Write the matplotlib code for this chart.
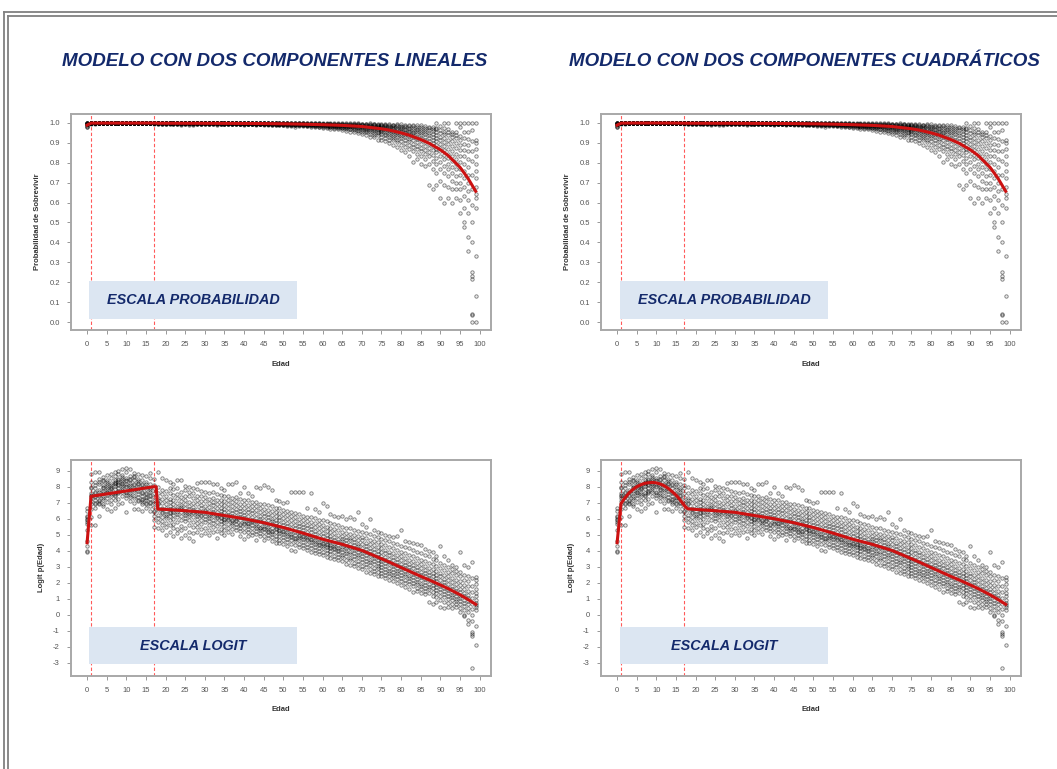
import numpy as np
import matplotlib.pyplot as plt
from matplotlib.patches import Rectangle

plt.rcParams['font.family'] = ['Liberation Sans', 'DejaVu Sans']
plt.rcParams['axes.unicode_minus'] = False

# observaciones en escala logit, una fila por edad (0..99)
logit_obs = [
    [3.9, 4.0, 4.3, 4.6, 5.3, 5.7, 5.8, 5.9, 6.0, 6.1, 6.2, 6.5, 6.7],
    [5.6, 6.1, 6.6, 6.9, 7.1, 7.3, 7.4, 7.6, 7.9, 8.0, 8.3, 8.8, 7.5],
    [5.6, 6.7, 7.0, 7.2, 7.35, 7.4, 7.6, 7.9, 8.1, 8.3, 8.9, 7.7, 6.9],
    [6.2, 6.9, 7.1, 7.2, 7.5, 7.7, 7.8, 8.2, 8.3, 8.5, 8.9, 7.4, 7.0],
    [6.8, 6.9, 7.3, 7.45, 7.6, 7.9, 8.0, 8.1, 8.35, 8.6, 7.2, 7.75, 8.4],
    [6.6, 7.05, 7.3, 7.5, 7.7, 7.8, 8.05, 8.2, 8.3, 8.75, 7.6, 7.95, 8.45],
    [6.5, 6.95, 7.2, 7.55, 7.7, 7.9, 8.1, 8.25, 8.55, 8.8, 7.4, 8.0, 7.85],
    [6.7, 7.15, 7.4, 7.6, 7.85, 8.15, 8.3, 8.45, 8.7, 8.95, 7.5, 8.05, 8.25],
    [6.9, 7.25, 7.6, 7.75, 7.95, 8.2, 8.4, 8.5, 8.8, 9.0, 7.7, 8.1, 8.3],
    [7.0, 7.45, 7.65, 7.9, 8.15, 8.35, 8.6, 8.75, 9.1, 7.8, 8.05, 8.5, 8.25],
    [6.4, 7.3, 7.5, 7.7, 8.05, 8.2, 8.45, 8.55, 8.9, 9.2, 7.6, 8.0, 8.35],
    [7.1, 7.35, 7.6, 7.8, 8.0, 8.25, 8.4, 8.65, 9.1, 7.85, 8.1, 8.5, 7.5],
    [6.6, 7.0, 7.3, 7.65, 7.9, 8.1, 8.4, 8.6, 8.85, 7.45, 7.8, 8.2, 8.7],
    [6.6, 7.1, 7.35, 7.55, 7.75, 8.0, 8.25, 8.5, 8.8, 7.2, 7.85, 8.15, 8.35],
    [6.5, 6.95, 7.15, 7.4, 7.7, 7.95, 8.1, 8.4, 8.75, 7.05, 7.6, 8.2, 7.25],
    [6.7, 6.95, 7.2, 7.3, 7.55, 7.85, 8.15, 8.3, 8.65, 7.0, 7.6, 8.0, 7.35],
    [6.5, 6.8, 7.0, 7.25, 7.5, 7.7, 7.9, 8.2, 8.55, 7.05, 7.4, 7.8, 8.85],
    [5.5, 5.95, 6.2, 6.5, 6.75, 7.1, 7.35, 7.6, 7.9, 8.1, 8.5, 6.4, 7.0],
    [5.4, 5.8, 6.05, 6.25, 6.55, 6.9, 7.15, 7.3, 7.6, 8.0, 8.9, 6.7, 7.0],
    [5.3, 5.6, 5.85, 6.1, 6.45, 6.7, 7.0, 7.25, 7.55, 7.8, 8.55, 6.6, 6.35],
    [5.0, 5.5, 5.75, 6.05, 6.3, 6.5, 6.65, 6.9, 7.15, 7.4, 7.75, 8.45, 6.2],
    [5.2, 5.6, 5.95, 6.15, 6.35, 6.6, 6.8, 7.05, 7.25, 7.6, 7.95, 8.3, 6.45],
    [4.9, 5.45, 5.7, 6.0, 6.25, 6.55, 6.7, 6.95, 7.2, 7.5, 7.85, 8.2, 6.4],
    [5.1, 5.35, 5.8, 6.1, 6.3, 6.45, 6.75, 7.0, 7.3, 7.55, 7.9, 8.4, 6.6],
    [4.8, 5.3, 5.55, 5.9, 6.2, 6.4, 6.6, 6.85, 7.1, 7.35, 7.7, 8.4, 6.75],
    [5.0, 5.4, 5.85, 6.05, 6.25, 6.5, 6.7, 6.9, 7.2, 7.45, 7.8, 8.05, 6.35],
    [4.8, 5.15, 5.6, 5.95, 6.15, 6.45, 6.6, 6.8, 7.05, 7.4, 7.65, 8.0, 6.3],
    [4.6, 5.1, 5.5, 5.8, 6.1, 6.35, 6.55, 6.75, 7.0, 7.3, 7.6, 7.95, 6.4],
    [5.2, 5.5, 5.75, 6.0, 6.2, 6.4, 6.6, 6.95, 7.15, 7.45, 7.85, 8.25, 6.3],
    [5.0, 5.35, 5.65, 5.9, 6.15, 6.45, 6.65, 6.85, 7.1, 7.4, 7.75, 8.3, 6.25],
    [5.1, 5.45, 5.8, 6.0, 6.2, 6.35, 6.55, 6.8, 7.1, 7.35, 7.7, 8.3, 6.5],
    [5.0, 5.3, 5.6, 5.85, 6.05, 6.3, 6.5, 6.75, 7.0, 7.25, 7.6, 8.3, 6.15],
    [5.2, 5.5, 5.75, 5.95, 6.2, 6.4, 6.6, 6.85, 7.05, 7.3, 7.7, 8.2, 6.3],
    [4.8, 5.25, 5.55, 5.8, 6.05, 6.25, 6.45, 6.7, 6.95, 7.2, 7.55, 8.15, 6.1],
    [5.1, 5.35, 5.65, 5.85, 6.1, 6.3, 6.5, 6.7, 6.9, 7.2, 7.5, 7.9, 6.05],
    [5.0, 5.3, 5.55, 5.8, 6.0, 6.2, 6.4, 6.6, 6.85, 7.1, 7.4, 7.8, 5.9],
    [5.2, 5.45, 5.7, 5.9, 6.1, 6.25, 6.45, 6.65, 6.9, 7.15, 7.45, 8.15, 6.0],
    [5.05, 5.35, 5.6, 5.75, 5.95, 6.15, 6.35, 6.55, 6.8, 7.05, 7.3, 8.2, 5.85],
    [5.3, 5.5, 5.65, 5.85, 6.05, 6.2, 6.4, 6.6, 6.85, 7.1, 7.35, 8.3, 5.95],
    [4.9, 5.25, 5.45, 5.7, 5.9, 6.1, 6.3, 6.5, 6.7, 6.95, 7.25, 7.6, 5.6],
    [4.75, 5.15, 5.4, 5.65, 5.85, 6.05, 6.25, 6.45, 6.7, 6.95, 7.2, 8.0, 5.75],
    [4.9, 5.15, 5.35, 5.55, 5.75, 5.95, 6.15, 6.4, 6.6, 6.85, 7.15, 7.6, 5.65],
    [5.0, 5.2, 5.4, 5.6, 5.8, 5.95, 6.1, 6.35, 6.55, 6.8, 7.05, 7.4, 5.85],
    [4.7, 5.05, 5.25, 5.45, 5.65, 5.85, 6.05, 6.3, 6.55, 6.8, 7.05, 8.0, 5.55],
    [4.9, 5.1, 5.3, 5.45, 5.65, 5.85, 6.0, 6.2, 6.45, 6.7, 6.95, 7.9, 5.4],
    [4.7, 4.95, 5.2, 5.35, 5.55, 5.75, 5.95, 6.15, 6.35, 6.6, 6.9, 8.1, 5.45],
    [4.8, 5.0, 5.15, 5.35, 5.5, 5.7, 5.9, 6.1, 6.3, 6.55, 6.85, 8.0, 5.25],
    [4.6, 4.85, 5.05, 5.25, 5.45, 5.65, 5.85, 6.0, 6.25, 6.5, 6.8, 7.8, 5.15],
    [4.5, 4.75, 4.95, 5.15, 5.35, 5.55, 5.75, 5.95, 6.2, 6.45, 6.7, 7.2, 5.45],
    [4.5, 4.7, 4.9, 5.1, 5.3, 5.5, 5.7, 5.9, 6.1, 6.35, 6.65, 7.1, 5.25],
    [4.4, 4.65, 4.85, 5.05, 5.25, 5.45, 5.6, 5.8, 6.05, 6.3, 6.55, 7.0, 5.15],
    [4.3, 4.55, 4.75, 4.95, 5.15, 5.35, 5.55, 5.75, 6.0, 6.25, 6.5, 7.05, 5.05],
    [4.05, 4.45, 4.65, 4.85, 5.05, 5.25, 5.45, 5.65, 5.9, 6.15, 6.45, 7.7, 4.95],
    [4.0, 4.35, 4.6, 4.8, 5.0, 5.2, 5.4, 5.6, 5.85, 6.1, 6.35, 7.7, 4.75],
    [4.25, 4.45, 4.65, 4.8, 5.0, 5.15, 5.35, 5.55, 5.75, 6.0, 6.3, 7.7, 4.95],
    [4.15, 4.35, 4.55, 4.75, 4.9, 5.1, 5.3, 5.5, 5.7, 5.95, 6.2, 7.7, 4.85],
    [4.05, 4.25, 4.45, 4.65, 4.85, 5.0, 5.2, 5.4, 5.6, 5.85, 6.1, 6.7, 4.75],
    [3.95, 4.15, 4.35, 4.55, 4.75, 4.95, 5.15, 5.35, 5.55, 5.8, 6.1, 7.6, 4.65],
    [3.85, 4.05, 4.25, 4.45, 4.65, 4.85, 5.05, 5.25, 5.5, 5.75, 6.05, 6.6, 4.55],
    [3.8, 4.0, 4.2, 4.35, 4.55, 4.75, 4.95, 5.15, 5.4, 5.65, 5.95, 6.4, 4.45],
    [3.75, 3.95, 4.15, 4.3, 4.5, 4.7, 4.9, 5.1, 5.35, 5.6, 5.9, 7.0, 4.4],
    [3.6, 3.85, 4.05, 4.25, 4.45, 4.6, 4.8, 5.0, 5.25, 5.5, 5.85, 6.8, 4.35],
    [3.55, 3.8, 4.0, 4.2, 4.35, 4.55, 4.75, 4.95, 5.2, 5.45, 5.75, 6.3, 4.25],
    [3.5, 3.7, 3.9, 4.1, 4.3, 4.45, 4.65, 4.85, 5.1, 5.35, 5.65, 6.2, 4.15],
    [3.4, 3.6, 3.8, 4.0, 4.2, 4.35, 4.55, 4.75, 5.0, 5.3, 5.6, 6.1, 4.05],
    [3.35, 3.6, 3.75, 3.95, 4.1, 4.25, 4.4, 4.6, 4.75, 4.95, 5.2, 5.5, 6.2],
    [3.2, 3.45, 3.7, 3.85, 4.0, 4.2, 4.3, 4.5, 4.7, 4.85, 5.1, 5.45, 6.0],
    [3.1, 3.4, 3.55, 3.8, 3.95, 4.15, 4.25, 4.45, 4.65, 4.8, 5.05, 5.4, 6.1],
    [3.05, 3.25, 3.5, 3.65, 3.85, 4.05, 4.2, 4.35, 4.55, 4.75, 5.0, 5.3, 6.0],
    [2.9, 3.2, 3.35, 3.6, 3.75, 3.9, 4.1, 4.3, 4.45, 4.7, 4.95, 5.25, 6.4],
    [2.85, 3.05, 3.3, 3.5, 3.7, 3.85, 4.0, 4.2, 4.4, 4.65, 4.85, 5.2, 5.65],
    [2.7, 3.0, 3.2, 3.35, 3.55, 3.75, 3.9, 4.1, 4.3, 4.5, 4.8, 5.1, 5.5],
    [2.6, 2.85, 3.1, 3.3, 3.45, 3.65, 3.8, 4.0, 4.2, 4.45, 4.7, 5.05, 6.0],
    [2.55, 2.75, 2.95, 3.15, 3.35, 3.55, 3.7, 3.9, 4.1, 4.35, 4.6, 4.95, 5.3],
    [2.4, 2.7, 2.9, 3.05, 3.25, 3.45, 3.6, 3.8, 4.0, 4.25, 4.55, 4.85, 5.2],
    [2.4, 2.6, 2.8, 3.0, 3.15, 3.35, 3.5, 3.7, 3.95, 4.15, 4.45, 4.75, 5.1],
    [2.3, 2.5, 2.7, 2.85, 3.05, 3.25, 3.4, 3.6, 3.85, 4.05, 4.35, 4.7, 5.0],
    [2.2, 2.4, 2.6, 2.75, 2.95, 3.15, 3.3, 3.5, 3.75, 3.95, 4.25, 4.6, 4.95],
    [2.1, 2.35, 2.5, 2.65, 2.85, 3.05, 3.2, 3.4, 3.6, 3.85, 4.15, 4.5, 4.85],
    [2.0, 2.25, 2.4, 2.6, 2.75, 2.95, 3.1, 3.3, 3.5, 3.75, 4.05, 4.4, 4.9],
    [1.85, 2.1, 2.3, 2.5, 2.65, 2.85, 3.0, 3.2, 3.4, 3.65, 3.95, 4.3, 5.3],
    [1.75, 2.0, 2.2, 2.4, 2.55, 2.75, 2.9, 3.1, 3.3, 3.55, 3.85, 4.25, 4.6],
    [1.6, 1.9, 2.1, 2.3, 2.45, 2.65, 2.8, 3.0, 3.2, 3.45, 3.75, 4.15, 4.55],
    [1.4, 1.8, 2.0, 2.15, 2.35, 2.55, 2.7, 2.9, 3.1, 3.35, 3.65, 4.05, 4.5],
    [1.5, 1.7, 1.9, 2.05, 2.25, 2.45, 2.6, 2.8, 3.0, 3.25, 3.55, 3.95, 4.4],
    [1.35, 1.6, 1.8, 1.95, 2.15, 2.35, 2.5, 2.7, 2.9, 3.15, 3.45, 3.85, 4.35],
    [1.3, 1.5, 1.7, 1.85, 2.05, 2.25, 2.4, 2.6, 2.8, 3.05, 3.35, 3.75, 4.1],
    [0.8, 1.35, 1.6, 1.75, 1.95, 2.15, 2.3, 2.5, 2.7, 2.95, 3.25, 3.65, 4.0],
    [0.7, 1.2, 1.45, 1.65, 1.85, 2.05, 2.2, 2.4, 2.6, 2.85, 3.15, 3.5, 3.9],
    [0.8, 1.1, 1.35, 1.55, 1.75, 1.9, 2.1, 2.3, 2.5, 2.75, 3.05, 3.4, 3.7],
    [0.5, 0.9, 1.2, 1.4, 1.6, 1.8, 1.95, 2.15, 2.4, 2.6, 2.9, 3.25, 4.3],
    [0.4, 0.8, 1.1, 1.3, 1.5, 1.65, 1.85, 2.05, 2.25, 2.5, 2.8, 3.1, 3.7],
    [0.5, 0.75, 1.0, 1.2, 1.35, 1.55, 1.7, 1.9, 2.15, 2.4, 2.7, 3.0, 3.4],
    [0.4, 0.7, 0.9, 1.1, 1.25, 1.45, 1.6, 1.8, 2.05, 2.3, 2.6, 2.85, 3.1],
    [0.5, 0.7, 0.85, 1.0, 1.2, 1.35, 1.5, 1.7, 1.95, 2.2, 2.5, 2.75, 3.0],
    [0.2, 0.45, 0.7, 0.85, 1.05, 1.2, 1.4, 1.6, 1.85, 2.1, 2.4, 2.65, 3.9],
    [-0.1, 0.0, 0.3, 0.55, 0.75, 0.95, 1.15, 1.35, 1.6, 1.85, 2.15, 2.5, 3.1],
    [-0.6, -0.3, 0.2, 0.45, 0.65, 0.85, 1.05, 1.25, 1.5, 1.8, 2.1, 2.45, 3.0],
    [-3.3, -1.3, -1.2, -1.1, -0.4, 0.0, 0.35, 0.7, 1.05, 1.45, 1.8, 2.3, 3.3],
    [-1.9, -0.7, 0.3, 0.5, 0.75, 0.95, 1.15, 1.35, 1.6, 1.9, 2.2, 2.35, 0.6],
]

# puntos con probabilidad 0 o 1 (logit infinito, solo en escala probabilidad)
prob_extra_edad = [89, 91, 92, 94, 95, 96, 97, 98, 99, 98, 98, 99]
prob_extra_val = [1.0, 1.0, 1.0, 1.0, 1.0, 1.0, 1.0, 1.0, 1.0, 0.0, 0.04, 0.0]

# curvas ajustadas (escala logit)
lin_edad = [0, 1, 17, 17.6, 18, 20, 25, 30, 35, 40, 45, 50, 55, 60, 65, 70, 75, 77, 80, 82, 85, 87, 90, 92, 95, 97, 99]
lin_logit = [4.5, 7.4, 8.0, 8.0, 6.6, 6.58, 6.5, 6.4, 6.2, 6.0, 5.75, 5.45, 5.1, 4.72, 4.4, 4.02, 3.5,
             3.29, 2.95, 2.73, 2.4, 2.19, 1.86, 1.63, 1.25, 0.96, 0.65]
cuad_edad = [0, 1, 2, 3, 4, 5, 6, 7, 8, 9, 10, 11, 12, 13, 14, 15, 16, 17, 18, 20, 25, 30, 35, 40, 45,
             50, 55, 60, 65, 70, 75, 77, 80, 82, 85, 87, 90, 92, 95, 97, 99]
cuad_logit = [4.5, 6.95, 7.3, 7.6, 7.82, 8.0, 8.12, 8.21, 8.25, 8.27, 8.24, 8.17, 8.06, 7.9, 7.7, 7.48,
              7.2, 6.86, 6.62, 6.58, 6.5, 6.4, 6.2, 6.0, 5.75, 5.45, 5.1, 4.72, 4.4, 4.02, 3.5,
              3.29, 2.95, 2.73, 2.4, 2.19, 1.86, 1.63, 1.25, 0.96, 0.65]

titulos = ['MODELO CON DOS COMPONENTES LINEALES', 'MODELO CON DOS COMPONENTES CUADRÁTICOS']
cortes = [1, 17]

navy = '#13296b'
gris = '#555555'

edad = np.concatenate([[i] * len(v) for i, v in enumerate(logit_obs)])
logit = np.concatenate(logit_obs)
prob = 1 / (1 + np.exp(-logit))

fig = plt.figure(figsize=(10.57, 7.69), dpi=100)


def invlogit(v):
    return 1 / (1 + np.exp(-np.array(v)))


def estilo_r(ax, ylab):
    for s in ax.spines.values():
        s.set_color('#a8a8a8')
        s.set_linewidth(1.4)
    ax.set_xlim(-4.1, 102.9)
    ax.set_xticks(range(0, 101, 5))
    ax.tick_params(colors='#888888', labelsize=5.5, length=3, width=0.6, pad=5, labelcolor=gris)
    ax.set_xlabel('Edad', fontsize=5.5, fontweight='bold', color='#333333', labelpad=9)
    ax.set_ylabel(ylab, fontsize=5.5, fontweight='bold', color='#333333', labelpad=6)
    for c in cortes:
        ax.axvline(c, color='#ff3030', lw=0.8, ls=(0, (3, 2)), alpha=0.8, zorder=1)


puntos = dict(s=6, facecolors=(0, 0, 0, 0.08), edgecolors=(0, 0, 0, 0.5), linewidths=0.6, zorder=2)

lefts = [71 / 1057, 601 / 1057]
w = 420 / 1057
curvas = [(lin_edad, lin_logit), (cuad_edad, cuad_logit)]

for j in range(2):
    x0 = lefts[j]
    ce, cl = curvas[j]

    # escala probabilidad
    ax = fig.add_axes([x0, 1 - 330 / 769, w, 216 / 769])
    ax.scatter(edad, prob, **puntos)
    ax.scatter(prob_extra_edad, prob_extra_val, **puntos)
    ax.plot(ce, invlogit(cl), color='#cc1111', lw=2.2, zorder=3)
    ax.set_ylim(-0.04, 1.045)
    ax.set_yticks(np.arange(0, 1.01, 0.1))
    ax.set_yticklabels(['%.1f' % v for v in np.arange(0, 1.01, 0.1)])
    estilo_r(ax, 'Probabilidad de Sobrevivir')

    # escala logit
    ax2 = fig.add_axes([x0, 1 - 675.7 / 769, w, 215.7 / 769])
    ax2.scatter(edad, logit, **puntos)
    ax2.plot(ce, cl, color='#cc1111', lw=2.2, zorder=3)
    ax2.set_ylim(-3.81, 9.67)
    ax2.set_yticks(range(-3, 10))
    estilo_r(ax2, 'Logit p(Edad)')

    # titulos y recuadros
    cx = [275, 804][j]
    fig.text(cx / 1057, 1 - 62 / 769, titulos[j], ha='center', va='center', fontsize=13.5,
             fontweight='bold', fontstyle='italic', color=navy)
    bx = [89, 620][j]
    for (y0, y1, txt) in [(281, 319, 'ESCALA PROBABILIDAD'), (627, 664, 'ESCALA LOGIT')]:
        fig.patches.append(Rectangle((bx / 1057, 1 - y1 / 769), 208 / 1057, (y1 - y0) / 769,
                                     transform=fig.transFigure, facecolor='#dce6f2',
                                     edgecolor='none', zorder=10))
        fig.text((bx + 104) / 1057, 1 - (y0 + y1) / 2 / 769, txt, ha='center', va='center',
                 fontsize=10.4, fontweight='bold', fontstyle='italic', color=navy, zorder=11)

# marco de la pagina
for x in [4, 8]:
    fig.add_artist(plt.Line2D([x / 1057, x / 1057], [0, 1 - (12 if x == 4 else 16) / 769],
                              transform=fig.transFigure, color='#808080', lw=1.3))
for y in [12, 16]:
    fig.add_artist(plt.Line2D([(4 if y == 12 else 8) / 1057, 1], [1 - y / 769, 1 - y / 769],
                              transform=fig.transFigure, color='#808080', lw=1.3))

fig.savefig('out.png', dpi=100)
